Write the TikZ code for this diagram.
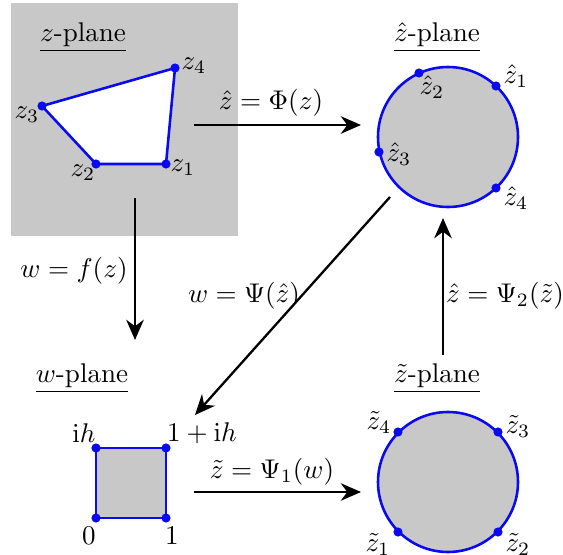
\documentclass[tikz,border=0pt]{standalone}
\usetikzlibrary{arrows.meta}
\definecolor{planegray}{RGB}{200,200,200}
\definecolor{curveblue}{RGB}{10,10,240}
\tikzset{
  curve/.style={draw=curveblue, line width=0.95pt},
  pt/.style={circle, fill=curveblue, inner sep=0pt, minimum size=3.4pt},
  maparrow/.style={line width=0.85pt, -{Stealth[length=7.5pt,width=6.5pt]}},
  lbl/.style={inner sep=1pt}
}
\begin{document}
\begin{tikzpicture}[x=0.013cm,y=-0.013cm]
\useasboundingbox (0,0) rectangle (563,555);
% z-plane
\fill[planegray] (11,3) rectangle (238,236);
\node[lbl] (zpl) at (83,37) {\underline{$z$-plane}};
\filldraw[curve, fill=white] (166,164) -- (96,164) -- (42,106) -- (175,68) -- cycle;
\node[pt] (z1) at (166,164) {};
\node[pt] (z2) at (96,164) {};
\node[pt] (z3) at (42,106) {};
\node[pt] (z4) at (175,68) {};
\node[lbl] (z1l) at (183,168) {$z_1$};
\node[lbl] (z2l) at (83,173) {$z_2$};
\node[lbl] (z3l) at (27,115) {$z_3$};
\node[lbl] (z4l) at (194,66) {$z_4$};
% zhat-plane
\node[lbl] (zhpl) at (437,37) {\underline{$\hat z$-plane}};
\filldraw[curve, fill=planegray] (448,137) circle[radius=70];
\node[pt] (zh1) at (496,86) {};
\node[pt] (zh2) at (419,73) {};
\node[pt] (zh3) at (379,152) {};
\node[pt] (zh4) at (496,188) {};
\node[lbl] (zh1l) at (516,76) {$\hat z_1$};
\node[lbl] (zh2l) at (432,87) {$\hat z_2$};
\node[lbl] (zh3l) at (399,154) {$\hat z_3$};
\node[lbl] (zh4l) at (516,198) {$\hat z_4$};
% w-plane
\node[lbl] (wpl) at (82,378) {\underline{$w$-plane}};
\filldraw[curve, fill=planegray] (96,448) rectangle (166,518);
\node[pt] (w0) at (96,518) {};
\node[pt] (w1) at (166,518) {};
\node[pt] (wih) at (96,448) {};
\node[pt] (w1ih) at (166,448) {};
\node[lbl] (w0l) at (89,536) {$0$};
\node[lbl] (w1l) at (172,536) {$1$};
\node[lbl] (wihl) at (84,433) {$\mathrm{i}h$};
\node[lbl] (w1ihl) at (202,433) {$1+\mathrm{i}h$};
% ztilde-plane
\node[lbl] (ztpl) at (437,378) {\underline{$\tilde z$-plane}};
\filldraw[curve, fill=planegray] (448,482) circle[radius=70];
\node[pt] (zt1) at (398,532) {};
\node[pt] (zt2) at (498,532) {};
\node[pt] (zt3) at (498,432) {};
\node[pt] (zt4) at (398,432) {};
\node[lbl] (zt1l) at (378,544) {$\tilde z_1$};
\node[lbl] (zt2l) at (518,544) {$\tilde z_2$};
\node[lbl] (zt3l) at (518,426) {$\tilde z_3$};
\node[lbl] (zt4l) at (379,422) {$\tilde z_4$};
% arrows
\coordinate (a1s) at (194,125); \coordinate (a1e) at (361,125);
\draw[maparrow] (a1s) -- (a1e);
\node[lbl] (a1l) at (271,103) {$\hat z=\Phi(z)$};
\coordinate (a2s) at (135,198); \coordinate (a2e) at (135,340);
\draw[maparrow] (a2s) -- (a2e);
\node[lbl] (a2l) at (74,271) {$w=f(z)$};
\coordinate (a3s) at (390,197); \coordinate (a3e) at (195,415);
\draw[maparrow] (a3s) -- (a3e);
\node[lbl] (a3l) at (244,296) {$w=\Psi(\hat z)$};
\coordinate (a4s) at (443,355); \coordinate (a4e) at (443,218);
\draw[maparrow] (a4s) -- (a4e);
\node[lbl] (a4l) at (505,296) {$\hat z=\Psi_2(\tilde z)$};
\coordinate (a5s) at (194,492); \coordinate (a5e) at (361,492);
\draw[maparrow] (a5s) -- (a5e);
\node[lbl] (a5l) at (272,472) {$\tilde z=\Psi_1(w)$};
\end{tikzpicture}
\end{document}
